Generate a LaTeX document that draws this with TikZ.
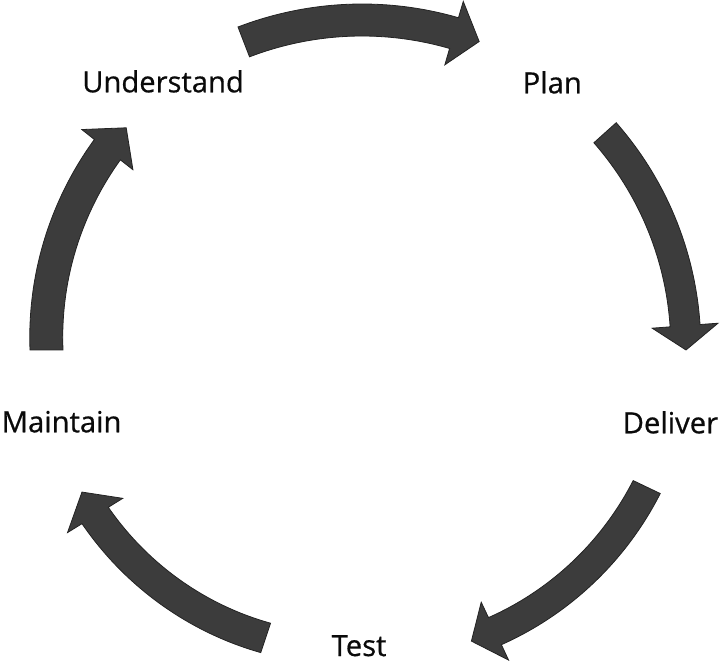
\documentclass[tikz,border=0pt]{standalone}
\usepackage{fontspec}
\setmainfont{Open Sans}
\newfontfamily\lblfont[FakeBold=0.6]{Open Sans}
\tikzset{
  arrowfill/.style={fill={rgb,255:red,60;green,60;blue,60}, draw={rgb,255:red,35;green,35;blue,35}, line width=0.8pt, line join=miter},
  lbl/.style={anchor=base west, inner sep=0pt, font=\lblfont\fontsize{29.2}{30}\selectfont, text={rgb,255:red,10;green,10;blue,10}}
}
% #1 tail angle, #2 head-base angle, #3 tip angle, #4 tail radius, #5 head radius, #6 half shaft width, #7 half head width
\newcommand\cycarrow[7]{%
  \filldraw[arrowfill]
    plot[domain=0:1, samples=50, variable=\u] ({#1+(#2-#1)*\u}:{#4+(#5-#4)*\u+#6})
    -- (#2:{#5+#7}) -- (#3:{#5}) -- (#2:{#5-#7})
    -- plot[domain=0:1, samples=50, variable=\u] ({#2+(#1-#2)*\u}:{#5+(#4-#5)*\u-#6})
    -- cycle;
}
\begin{document}
\begin{tikzpicture}[x=1pt,y=1pt]
  \useasboundingbox (0,0) rectangle (720,662);
  \node[lbl] (understand) at (82,569.7) {Understand};
  \node[lbl] (plan) at (522.5,568.7) {Plan};
  \node[lbl] (deliver) at (622.5,228.7) {Deliver};
  \node[lbl] (test) at (331.5,6) {Test};
  \node[lbl] (maintain) at (1.5,229.7) {Maintain};
  \coordinate (c) at (362,312);
  \begin{scope}[shift={(c)}]
    \cycarrow{111}{73.8}{69.2}{330}{330}{16}{33}
    \cycarrow{41.8}{4.3}{0}{326}{324}{15}{33}
    \cycarrow{-25.7}{-64.7}{-69.4}{316}{311}{15}{32}
    \cycarrow{-108.5}{-148.2}{-153.1}{303.6}{314}{15.5}{32.5}
    \cycarrow{180}{141.8}{136.7}{315.5}{324}{16.5}{32.5}
  \end{scope}
\end{tikzpicture}
\end{document}
